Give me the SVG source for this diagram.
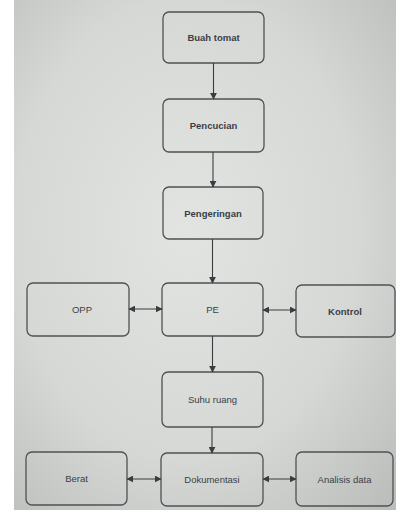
<svg xmlns="http://www.w3.org/2000/svg" width="396" height="510" viewBox="0 0 396 510">
<defs>
<radialGradient id="bg" cx="0.45" cy="0.45" r="0.75">
<stop offset="0" stop-color="#e2e4e2"/>
<stop offset="0.6" stop-color="#d6d8d6"/>
<stop offset="1" stop-color="#bcbebc"/>
</radialGradient>
<marker id="ah" viewBox="0 0 10 10" refX="9" refY="5" markerWidth="7" markerHeight="7" orient="auto-start-reverse" markerUnits="userSpaceOnUse">
<path d="M0,0 L10,5 L0,10 z" fill="#3a3d3f"/>
</marker>
<style>
.box{fill:none;stroke:#4e5254;stroke-width:1.3}
.lbl{font-family:"Liberation Sans",Arial,sans-serif;font-size:9.5px;fill:#3a3f45;text-anchor:middle;dominant-baseline:central}
.b{font-weight:bold}
.c{stroke:#3a3d3f;stroke-width:1.1;fill:none}
</style>
</defs>
<rect x="0" y="0" width="396" height="510" fill="#ffffff"/>
<rect x="14" y="0" width="382" height="510" fill="url(#bg)"/>
<g id="buah-tomat"><rect class="box" x="163" y="12" width="101" height="51" rx="6"/><text class="lbl b" x="213.5" y="37.5">Buah tomat</text></g>
<g id="pencucian"><rect class="box" x="163" y="99" width="101" height="53" rx="6"/><text class="lbl b" x="213.5" y="125.5">Pencucian</text></g>
<g id="pengeringan"><rect class="box" x="163" y="187" width="100" height="52" rx="6"/><text class="lbl b" x="213" y="213">Pengeringan</text></g>
<g id="pe"><rect class="box" x="162" y="283" width="101" height="53" rx="6"/><text class="lbl" x="212.5" y="309.5">PE</text></g>
<g id="opp"><rect class="box" x="27" y="283" width="102" height="53" rx="6"/><text class="lbl" x="82" y="309.5">OPP</text></g>
<g id="kontrol"><rect class="box" x="296" y="285" width="99" height="52" rx="6"/><text class="lbl b" x="345" y="311">Kontrol</text></g>
<g id="suhu-ruang"><rect class="box" x="162" y="372" width="101" height="55" rx="6"/><text class="lbl" x="212.5" y="399.5">Suhu ruang</text></g>
<g id="dokumentasi"><rect class="box" x="161" y="453" width="102" height="53" rx="6"/><text class="lbl" x="212" y="479.5">Dokumentasi</text></g>
<g id="berat"><rect class="box" x="26" y="452" width="101" height="53" rx="6"/><text class="lbl" x="76.5" y="478.5">Berat</text></g>
<g id="analisis-data"><rect class="box" x="296" y="452" width="97" height="54" rx="6"/><text class="lbl" x="344.5" y="479">Analisis data</text></g>
<g id="connectors">
<line class="c" x1="213.5" y1="63" x2="213.5" y2="99" marker-end="url(#ah)"/>
<line class="c" x1="213" y1="152" x2="213" y2="187" marker-end="url(#ah)"/>
<line class="c" x1="212.5" y1="239" x2="212.5" y2="283" marker-end="url(#ah)"/>
<line class="c" x1="212.5" y1="336" x2="212.5" y2="372" marker-end="url(#ah)"/>
<line class="c" x1="212" y1="427" x2="212" y2="453" marker-end="url(#ah)"/>
<line class="c" x1="129" y1="309" x2="162" y2="309" marker-start="url(#ah)" marker-end="url(#ah)"/>
<line class="c" x1="263" y1="310" x2="296" y2="310" marker-start="url(#ah)" marker-end="url(#ah)"/>
<line class="c" x1="127" y1="479" x2="161" y2="479" marker-start="url(#ah)" marker-end="url(#ah)"/>
<line class="c" x1="263" y1="479" x2="296" y2="479" marker-start="url(#ah)" marker-end="url(#ah)"/>
</g>
</svg>
